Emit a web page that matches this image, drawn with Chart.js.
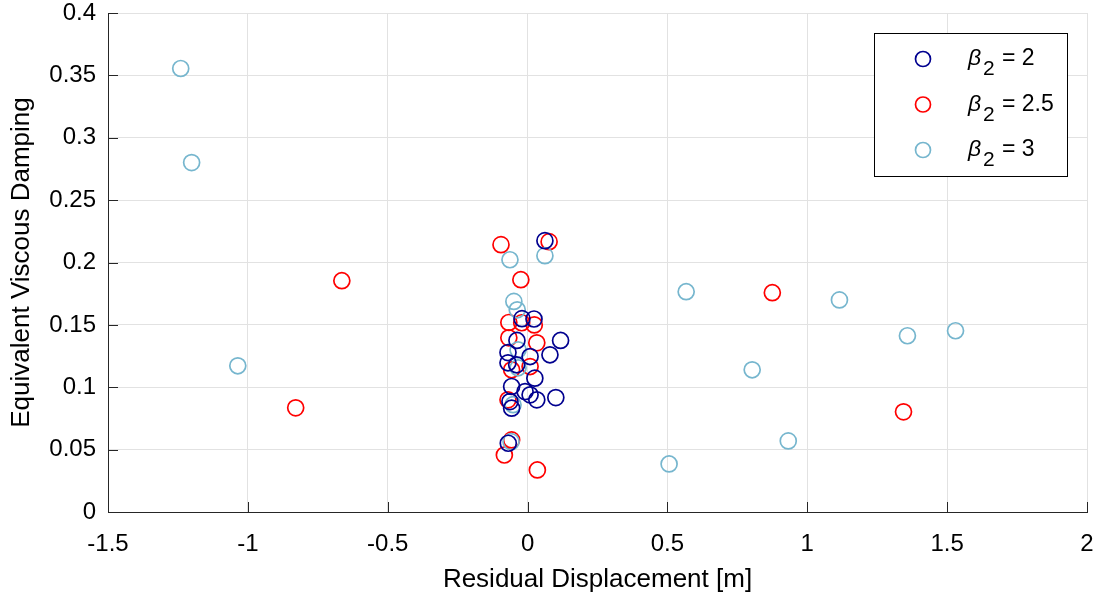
<!DOCTYPE html>
<html>
<head>
<meta charset="utf-8">
<title>Residual displacement vs damping</title>
<script src="https://cdn.jsdelivr.net/npm/chart.js@4"></script>
<style>
  html, body { margin: 0; padding: 0; background: #fff; }
  #wrap { width: 1099px; height: 599px; }
</style>
</head>
<body>
<div id="wrap"><canvas id="dampingChart" width="1099" height="599"></canvas></div>
<script>
// Residual displacement [m] and equivalent viscous damping, one pair per run
const beta2Disp = [0.062, -0.020, 0.023, -0.038, 0.118, -0.070, 0.009, 0.080, -0.070, -0.039,
  0.026, -0.057, -0.009, 0.009, 0.033, 0.101, -0.063, -0.057, -0.069];
const beta2Damp = [0.2175, 0.155, 0.1547, 0.1375, 0.1375, 0.1278, 0.1246, 0.126, 0.1196, 0.118,
  0.1073, 0.1006, 0.0965, 0.0939, 0.0899, 0.0917, 0.0885, 0.0832, 0.0551];

const beta25Disp = [-0.095, 0.077, -0.024, -0.664, -0.829, 0.875, 1.344, -0.067, -0.021, 0.024,
  -0.067, 0.033, 0.009, -0.057, -0.070, -0.057, -0.083, 0.035];
const beta25Damp = [0.2143, 0.2167, 0.1862, 0.1854, 0.0835, 0.1758, 0.0803, 0.1519, 0.1517, 0.150,
  0.1396, 0.1356, 0.1166, 0.114, 0.0899, 0.0578, 0.0457, 0.0337];

const beta3Disp = [-1.240, -1.201, -1.036, -0.063, 0.062, -0.049, -0.037, -0.034, -0.034, -0.052,
  -0.059, 0.567, 1.115, 1.358, 1.530, 0.803, 0.932, 0.506];
const beta3Damp = [0.3555, 0.2801, 0.1172, 0.2022, 0.2055, 0.1688, 0.1621, 0.130, 0.1156, 0.086,
  0.0564, 0.1766, 0.170, 0.1413, 0.1453, 0.114, 0.057, 0.0385];

const seriesNames = ['2', '2.5', '3'];
const xTickLabels = ['-1.5', '-1', '-0.5', '0', '0.5', '1', '1.5', '2'];
const yTickLabels = ['0', '0.05', '0.1', '0.15', '0.2', '0.25', '0.3', '0.35', '0.4'];

const COLORS = ['#00008F', '#FF0000', '#76B6CE'];
const FONT = 'Liberation Sans, Arial, Helvetica, sans-serif';

function toPoints(xs, ys) {
  return xs.map((x, i) => ({ x: x, y: ys[i] }));
}

function circleSet(label, xs, ys, color, order) {
  return {
    label: label,
    data: toPoints(xs, ys),
    showLine: false,
    pointStyle: 'circle',
    pointRadius: 8,
    pointHoverRadius: 8,
    pointBorderWidth: 1.7,
    borderColor: color,
    backgroundColor: 'rgba(0,0,0,0)',
    order: order
  };
}

// MATLAB-style inward tick marks on the left and bottom axes
const inwardTicks = {
  id: 'inwardTicks',
  afterDatasetsDraw(chart) {
    const { ctx, chartArea: a, scales: { x, y } } = chart;
    ctx.save();
    ctx.strokeStyle = '#262626';
    ctx.lineWidth = 1;
    ctx.beginPath();
    x.ticks.forEach(t => {
      const px = Math.round(x.getPixelForValue(t.value)) + 0.5;
      ctx.moveTo(px, a.bottom);
      ctx.lineTo(px, a.bottom - 10);
    });
    y.ticks.forEach(t => {
      const py = Math.round(y.getPixelForValue(t.value)) + 0.5;
      ctx.moveTo(a.left, py);
      ctx.lineTo(a.left + 10, py);
    });
    ctx.stroke();
    ctx.restore();
  }
};

// legend box with beta subscript labels
const betaLegend = {
  id: 'betaLegend',
  afterDraw(chart) {
    const ctx = chart.ctx;
    const bx = 874, by = 33, bw = 193, bh = 143;
    ctx.save();
    ctx.fillStyle = '#fff';
    ctx.fillRect(bx, by, bw, bh);
    ctx.strokeStyle = '#000';
    ctx.lineWidth = 1;
    ctx.strokeRect(bx + 0.5, by + 0.5, bw, bh);
    seriesNames.forEach((name, i) => {
      const cy = 59 + i * 45.5;
      ctx.beginPath();
      ctx.arc(923, cy, 7.5, 0, Math.PI * 2);
      ctx.strokeStyle = COLORS[i];
      ctx.lineWidth = 1.7;
      ctx.stroke();
      ctx.fillStyle = '#000';
      ctx.textBaseline = 'alphabetic';
      ctx.textAlign = 'left';
      ctx.font = 'italic 23px ' + FONT;
      ctx.fillText('\u03B2', 968, cy + 6);
      ctx.font = '21px ' + FONT;
      ctx.fillText('2', 983, cy + 16);
      ctx.font = '23px ' + FONT;
      ctx.fillText('= ' + name, 1002, cy + 6);
    });
    ctx.restore();
  }
};

const ctx = document.getElementById('dampingChart').getContext('2d');
const dampingChart = new Chart(ctx, {
  type: 'scatter',
  data: {
    datasets: [
      circleSet('\u03B2\u2082 = ' + seriesNames[0], beta2Disp, beta2Damp, COLORS[0], 0),
      circleSet('\u03B2\u2082 = ' + seriesNames[1], beta25Disp, beta25Damp, COLORS[1], 2),
      circleSet('\u03B2\u2082 = ' + seriesNames[2], beta3Disp, beta3Damp, COLORS[2], 1)
    ]
  },
  options: {
    responsive: false,
    animation: false,
    layout: { padding: { left: 0, top: 13, right: 12, bottom: 0 } },
    plugins: {
      legend: { display: false },
      tooltip: { enabled: false }
    },
    scales: {
      x: {
        type: 'linear',
        min: -1.5,
        max: 2,
        afterFit(scale) {
          scale.height = 87;
          scale.paddingLeft = 0;
          scale.paddingRight = 0;
        },
        afterBuildTicks(scale) {
          scale.ticks = xTickLabels.map(v => ({ value: parseFloat(v) }));
        },
        ticks: {
          padding: 18,
          color: '#000',
          maxRotation: 0,
          font: { family: FONT, size: 24 },
          callback: (value, index) => xTickLabels[index]
        },
        grid: { color: '#E2E2E2', lineWidth: 1, drawTicks: false },
        border: { display: true, color: '#262626', width: 1 },
        title: {
          display: true,
          text: 'Residual Displacement [m]',
          color: '#000',
          font: { family: FONT, size: 26 },
          padding: { top: 0, bottom: 4 }
        }
      },
      y: {
        type: 'linear',
        min: 0,
        max: 0.4,
        afterFit(scale) {
          scale.width = 108;
          scale.paddingTop = 0;
          scale.paddingBottom = 0;
        },
        afterBuildTicks(scale) {
          scale.ticks = yTickLabels.map(v => ({ value: parseFloat(v) }));
        },
        ticks: {
          padding: 12,
          color: '#000',
          font: { family: FONT, size: 24 },
          callback: (value, index) => yTickLabels[index]
        },
        grid: { color: '#E2E2E2', lineWidth: 1, drawTicks: false },
        border: { display: true, color: '#262626', width: 1 },
        title: {
          display: true,
          text: 'Equivalent Viscous Damping',
          color: '#000',
          font: { family: FONT, size: 26 },
          padding: { top: 6, bottom: 0 }
        }
      }
    }
  },
  plugins: [inwardTicks, betaLegend]
});
</script>
</body>
</html>
